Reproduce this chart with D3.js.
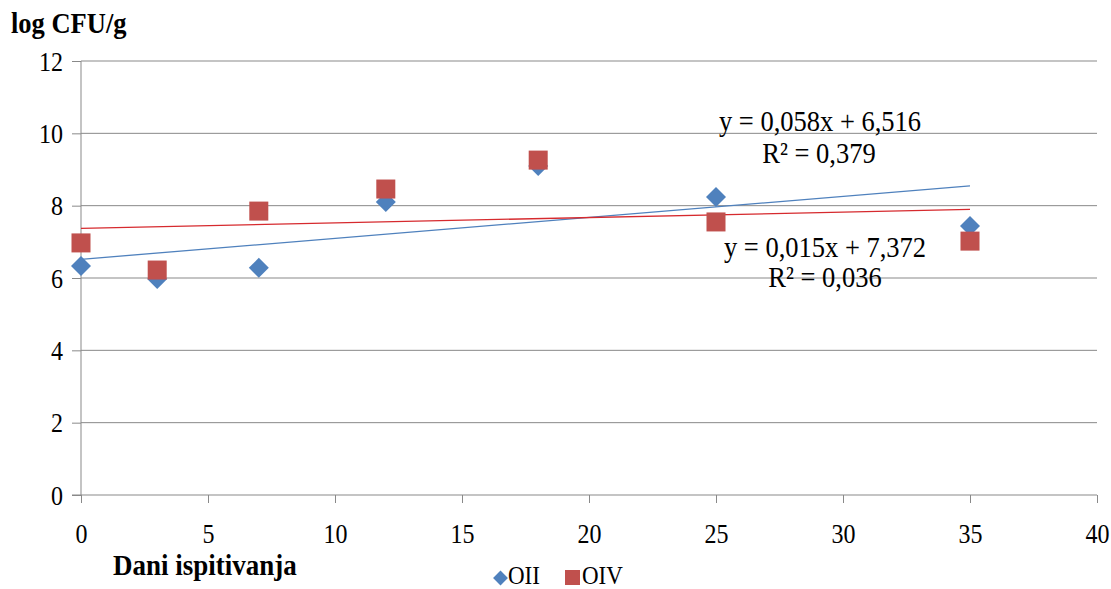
<!DOCTYPE html>
<html>
<head>
<meta charset="utf-8">
<script src="https://cdn.jsdelivr.net/npm/d3@7"></script>
<style>
  html, body { margin: 0; padding: 0; background: #fff; }
  svg { display: block; font-family: "Liberation Serif", "Times New Roman", serif; }
</style>
</head>
<body>
<svg id="chart" width="1111" height="589"></svg>
<script>
// Sampling days
const days = [0, 3, 7, 12, 18, 25, 35];
// log CFU/g per sample
const valuesOII = [6.33, 5.97, 6.28, 8.10, 9.10, 8.24, 7.44];
const valuesOIV = [6.97, 6.22, 7.85, 8.46, 9.26, 7.55, 7.02];
// Linear trend coefficients (slope, intercept) and R²
const trendOII = { slope: 0.058, intercept: 6.516, r2: "0,379", label: "y = 0,058x + 6,516" };
const trendOIV = { slope: 0.015, intercept: 7.372, r2: "0,036", label: "y = 0,015x + 7,372" };
const xTicks = [0, 5, 10, 15, 20, 25, 30, 35, 40];
const yTicks = [0, 2, 4, 6, 8, 10, 12];
const seriesNames = ["OII", "OIV"];

const blue = "#4F81BD", red = "#C0504D", redLine = "#D62A2E", grid = "#898989";
const stretch = 1.13; // slightly tall serif lettering

const svg = d3.select("#chart");
const x = d3.scaleLinear().domain([0, 40]).range([81, 1097]);
const y = d3.scaleLinear().domain([0, 12]).range([495, 61]);

// Place a text with its baseline at (px, py), vertically stretched
function label(g, px, py, str, opts = {}) {
  return g.append("text")
    .attr("transform", `translate(${px},${py}) scale(1,${stretch})`)
    .attr("text-anchor", opts.anchor || "start")
    .attr("font-size", opts.size || 24)
    .attr("font-weight", opts.weight || "normal")
    .attr("fill", "#000")
    .text(str);
}

// Horizontal gridlines
svg.append("g").selectAll("line").data(yTicks.filter(d => d > 0)).join("line")
  .attr("x1", x(0)).attr("x2", x(40))
  .attr("y1", d => y(d)).attr("y2", d => y(d))
  .attr("stroke", grid).attr("stroke-width", 1);

// Y axis
const yAxis = svg.append("g").attr("transform", `translate(${x(0)},0)`)
  .call(d3.axisLeft(y).tickValues(yTicks).tickSize(9).tickFormat(d3.format("d")));
// X axis
const xAxis = svg.append("g").attr("transform", `translate(0,${y(0)})`)
  .call(d3.axisBottom(x).tickValues(xTicks).tickSize(8).tickFormat(d3.format("d")));
[yAxis, xAxis].forEach(a => {
  a.select(".domain").attr("stroke", grid).attr("stroke-width", 1);
  a.selectAll(".tick line").attr("stroke", grid);
  a.selectAll(".tick text")
    .attr("font-family", "Liberation Serif").attr("font-size", 24).attr("fill", "#000")
    .attr("x", null).attr("y", null).attr("dy", null);
});
yAxis.selectAll(".tick text").attr("transform", `translate(-18,9) scale(1,${stretch})`);
xAxis.selectAll(".tick text").attr("transform", `translate(0,48) scale(1,${stretch})`);
yAxis.select(".domain").attr("d", `M0,${y(12)}V${y(0)}`);
xAxis.select(".domain").attr("d", `M${x(0) - 9},0H${x(40)}`);

// Trend lines over the observed day range
const xr = d3.extent(days);
[[trendOII, blue], [trendOIV, redLine]].forEach(([t, c]) => {
  svg.append("line")
    .attr("x1", x(xr[0])).attr("y1", y(t.intercept + t.slope * xr[0]))
    .attr("x2", x(xr[1])).attr("y2", y(t.intercept + t.slope * xr[1]))
    .attr("stroke", c).attr("stroke-width", 1.3);
});

// Markers
const diamond = d3.symbol().type(d3.symbolSquare).size(200);
svg.append("g").selectAll("path").data(days).join("path")
  .attr("d", diamond)
  .attr("transform", (d, i) => `translate(${x(d)},${y(valuesOII[i])}) rotate(45)`)
  .attr("fill", blue);
svg.append("g").selectAll("rect").data(days).join("rect")
  .attr("x", d => x(d) - 9.5).attr("y", (d, i) => y(valuesOIV[i]) - 9.5)
  .attr("width", 19).attr("height", 19)
  .attr("fill", red);

// Equation labels
const eq = svg.append("g");
label(eq, 820, 131, trendOII.label, { anchor: "middle", size: 26.5 });
label(eq, 819, 163, "R² = " + trendOII.r2, { anchor: "middle", size: 26.5 });
label(eq, 825, 257, trendOIV.label, { anchor: "middle", size: 26.5 });
label(eq, 825, 287, "R² = " + trendOIV.r2, { anchor: "middle", size: 26.5 });

// Axis titles
label(svg, 11, 33, "log CFU/g", { size: 26.5, weight: "bold" });
label(svg, 113, 575, "Dani ispitivanja", { size: 27, weight: "bold" });

// Legend
const lg = svg.append("g");
lg.append("path").attr("d", d3.symbol().type(d3.symbolSquare).size(110))
  .attr("transform", "translate(500.5,578) rotate(45)").attr("fill", blue);
label(lg, 508, 584, seriesNames[0], { size: 23 });
lg.append("rect").attr("x", 565).attr("y", 570).attr("width", 15).attr("height", 15).attr("fill", red);
label(lg, 582, 584, seriesNames[1], { size: 23 });
</script>
</body>
</html>
